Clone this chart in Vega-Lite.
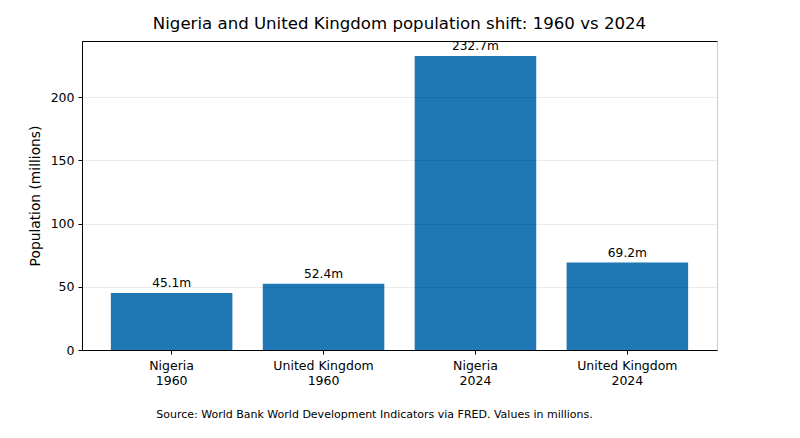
{
  "$schema": "https://vega.github.io/schema/vega-lite/v6.json",
  "width": 635,
  "height": 309,
  "padding": {"left": 82, "top": 41, "right": 83, "bottom": 88},
  "autosize": {"type": "none"},
  "background": "white",
  "config": {
    "font": "DejaVu Sans",
    "view": {"stroke": "#cccccc", "strokeWidth": 1},
    "axis": {"labelFont": "DejaVu Sans", "titleFont": "DejaVu Sans", "labelColor": "#000", "titleColor": "#000", "tickColor": "#000", "domainColor": "#000"}
  },
  "title": {"text": "Nigeria and United Kingdom population shift: 1960 vs 2024", "fontSize": 16.6, "fontWeight": "normal", "font": "DejaVu Sans", "color": "#000", "offset": 7},
  "data": {"values": [
    {"group": "Nigeria|1960", "population": 45.1, "label": "45.1m"},
    {"group": "United Kingdom|1960", "population": 52.4, "label": "52.4m"},
    {"group": "Nigeria|2024", "population": 232.7, "label": "232.7m"},
    {"group": "United Kingdom|2024", "population": 69.2, "label": "69.2m"}
  ]},
  "encoding": {
    "x": {"field": "group", "type": "nominal", "sort": null,
      "scale": {"paddingInner": 0.2, "paddingOuter": 0.19}},
    "y": {"field": "population", "type": "quantitative",
      "scale": {"domain": [0, 244.5], "nice": false}}
  },
  "layer": [
    {
      "mark": {"type": "bar", "color": "#1f77b4"},
      "encoding": {
        "x": {"field": "group", "type": "nominal", "sort": null,
          "axis": {"orient": "bottom", "labelAngle": 0, "labelExpr": "split(datum.value, '|')", "labelFontSize": 12.5, "labelPadding": 5, "tickSize": 4, "labelLineHeight": 15,
            "title": "Source: World Bank World Development Indicators via FRED. Values in millions.", "titleFontSize": 11, "titleFontWeight": "normal", "titleX": 292, "titleY": 64, "titleAlign": "center", "titleBaseline": "middle"}},
        "y": {"field": "population", "type": "quantitative",
          "axis": {"title": "Population (millions)", "titleFontSize": 13.8, "titleFontWeight": "normal", "titlePadding": 8, "labelFontSize": 12.5, "tickSize": 4, "values": [0, 50, 100, 150, 200], "grid": true, "gridColor": "#000", "gridOpacity": 0.08, "zindex": 1, "labelPadding": 4}}
      }
    },
    {
      "mark": {"type": "text", "baseline": "bottom", "dy": -3, "fontSize": 12.2, "font": "DejaVu Sans", "color": "#000"},
      "encoding": {
        "x": {"field": "group", "type": "nominal", "sort": null,
          "axis": {"orient": "top", "labels": false, "ticks": false, "title": null, "domain": true, "domainColor": "#000"}},
        "text": {"field": "label"}
      }
    }
  ]
}
